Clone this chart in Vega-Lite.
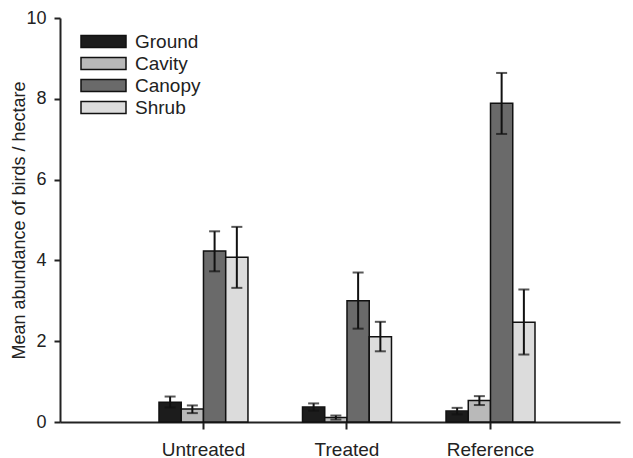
{
  "$schema": "https://vega.github.io/schema/vega-lite/v6.json",
  "width": 560,
  "height": 404,
  "autosize": {"type": "none"},
  "padding": {"left": 60, "top": 18, "right": 13, "bottom": 36},
  "background": "white",
  "config": {
    "view": {"stroke": null},
    "font": "Liberation Sans",
    "axis": {"labelFont": "Liberation Sans", "titleFont": "Liberation Sans", "labelColor": "#222", "titleColor": "#222", "domainColor": "#222", "tickColor": "#222", "domainWidth": 2, "tickWidth": 2, "grid": false}
  },
  "data": {
    "values": [
      {"site": "Untreated", "guild": "Ground", "mean": 0.49, "lo": 0.36, "hi": 0.63},
      {"site": "Untreated", "guild": "Cavity", "mean": 0.32, "lo": 0.22, "hi": 0.41},
      {"site": "Untreated", "guild": "Canopy", "mean": 4.23, "lo": 3.73, "hi": 4.72},
      {"site": "Untreated", "guild": "Shrub", "mean": 4.08, "lo": 3.32, "hi": 4.83},
      {"site": "Treated", "guild": "Ground", "mean": 0.37, "lo": 0.28, "hi": 0.46},
      {"site": "Treated", "guild": "Cavity", "mean": 0.11, "lo": 0.06, "hi": 0.16},
      {"site": "Treated", "guild": "Canopy", "mean": 3.0, "lo": 2.31, "hi": 3.7},
      {"site": "Treated", "guild": "Shrub", "mean": 2.11, "lo": 1.75, "hi": 2.48},
      {"site": "Reference", "guild": "Ground", "mean": 0.27, "lo": 0.19, "hi": 0.35},
      {"site": "Reference", "guild": "Cavity", "mean": 0.53, "lo": 0.42, "hi": 0.64},
      {"site": "Reference", "guild": "Canopy", "mean": 7.89, "lo": 7.13, "hi": 8.64},
      {"site": "Reference", "guild": "Shrub", "mean": 2.47, "lo": 1.67, "hi": 3.28}
    ]
  },
  "encoding": {
    "x": {
      "field": "site", "type": "nominal", "sort": ["Untreated", "Treated", "Reference"],
      "scale": {"paddingInner": 0.38, "paddingOuter": 0.641, "align": 0.538},
      "axis": {"title": null, "labelAngle": 0, "labelFontSize": 19, "labelPadding": 11, "tickSize": 7, "domainWidth": 2}
    },
    "xOffset": {"field": "guild", "type": "nominal", "sort": ["Ground", "Cavity", "Canopy", "Shrub"], "scale": {"paddingInner": 0, "paddingOuter": 0}}
  },
  "layer": [
    {
      "mark": {"type": "bar", "stroke": "#111", "strokeWidth": 1.5},
      "encoding": {
        "y": {
          "field": "mean", "type": "quantitative",
          "scale": {"domain": [0, 10], "nice": false},
          "axis": {"title": "Mean abundance of birds / hectare", "titleFontSize": 18, "titleFontWeight": "normal", "labelFontSize": 18, "values": [0, 2, 4, 6, 8, 10], "tickSize": 6, "labelPadding": 8, "titlePadding": -3}
        },
        "fill": {
          "field": "guild", "type": "nominal",
          "sort": ["Ground", "Cavity", "Canopy", "Shrub"],
          "scale": {"domain": ["Ground", "Cavity", "Canopy", "Shrub"], "range": ["#1c1c1c", "#b9b9b9", "#6a6a6a", "#dcdcdc"]},
          "legend": {
            "title": null, "orient": "none", "legendX": 34, "legendY": 14,
            "symbolType": "M-3.75,-1L3.75,-1L3.75,1L-3.75,1Z",
            "symbolSize": 144, "symbolStrokeColor": "#111", "symbolStrokeWidth": 1.5,
            "labelFontSize": 19, "labelColor": "#222", "labelOffset": 22, "rowPadding": 2, "padding": 0
          }
        }
      }
    },
    {
      "mark": {"type": "rule", "color": "#111", "strokeWidth": 2},
      "encoding": {
        "y": {"field": "lo", "type": "quantitative"},
        "y2": {"field": "hi"}
      }
    },
    {
      "mark": {"type": "tick", "color": "#111", "thickness": 2, "size": 11},
      "encoding": {"y": {"field": "lo", "type": "quantitative"}}
    },
    {
      "mark": {"type": "tick", "color": "#111", "thickness": 2, "size": 11},
      "encoding": {"y": {"field": "hi", "type": "quantitative"}}
    }
  ]
}
